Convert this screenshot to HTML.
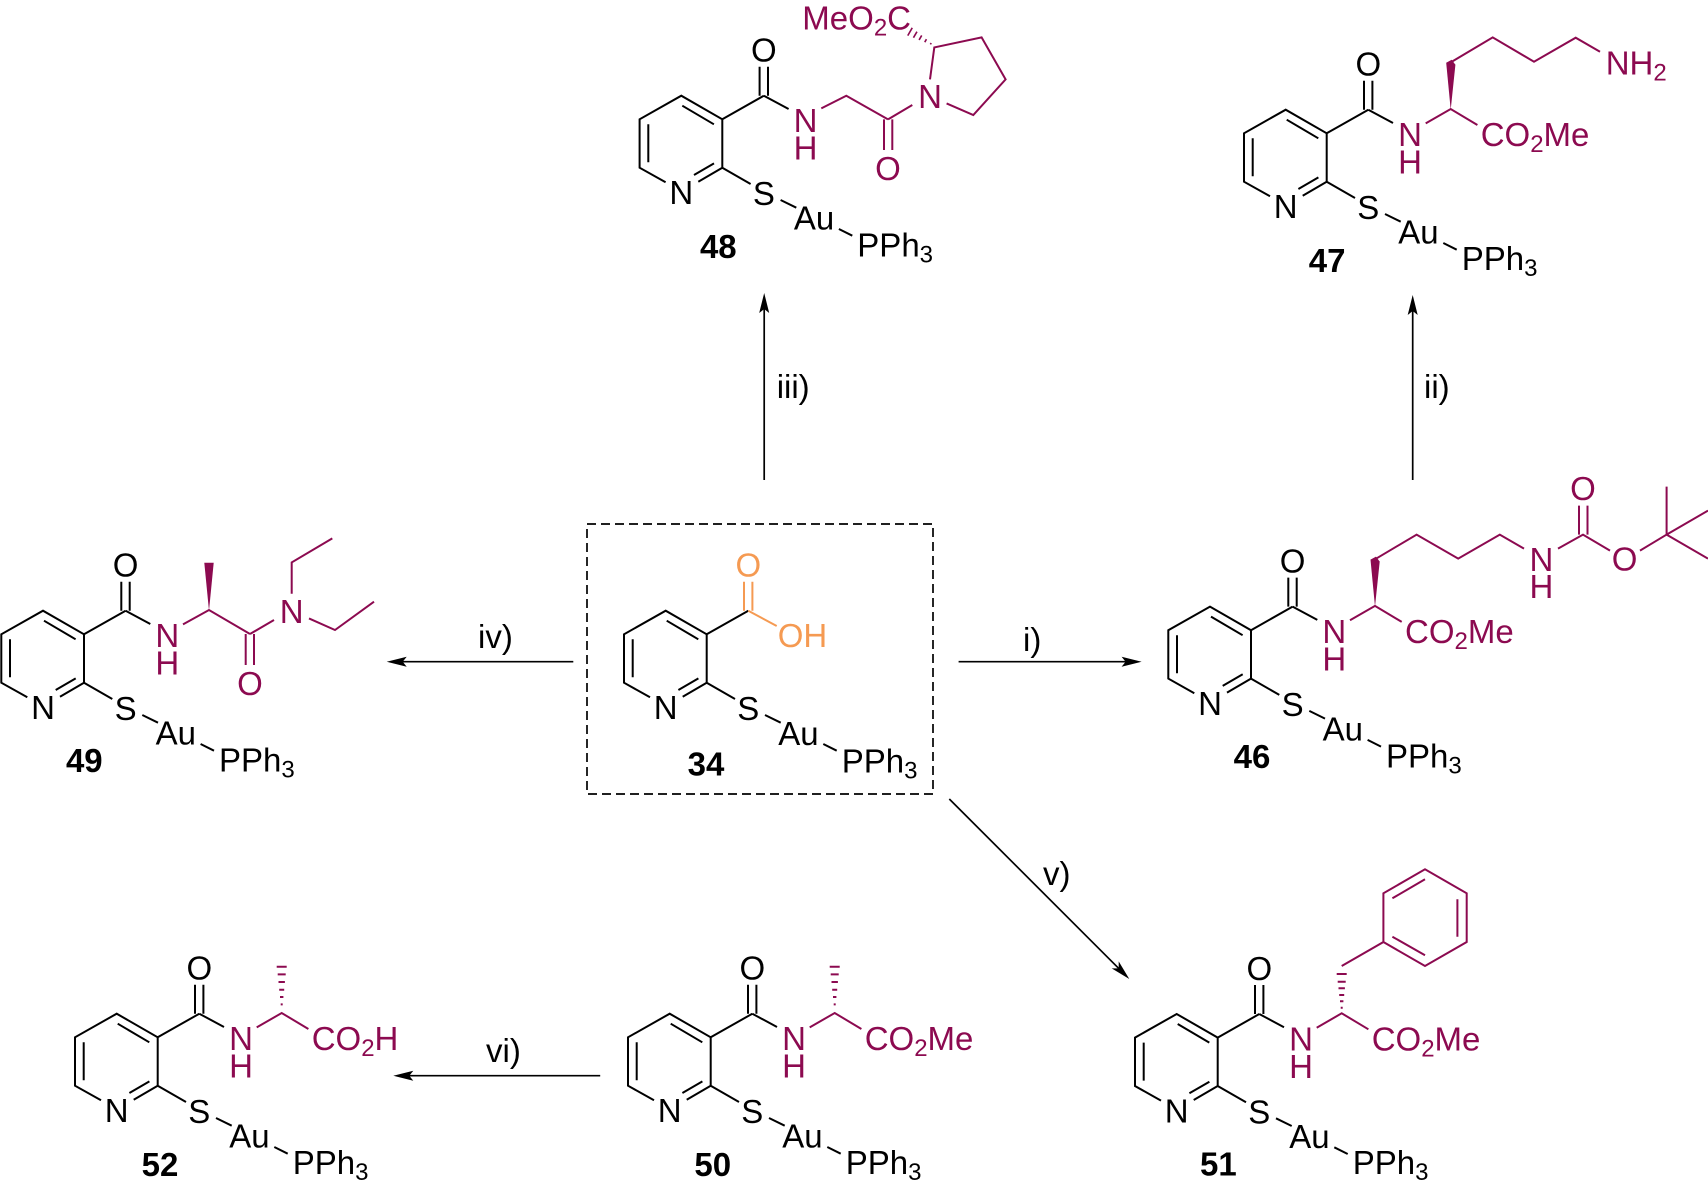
<!DOCTYPE html>
<html><head><meta charset="utf-8"><style>
html,body{margin:0;padding:0;background:#fff}
svg{display:block}
text{font-family:"Liberation Sans",Arial,sans-serif;font-size:33px;stroke:none}
.t{fill:#000}.r{fill:#8c0a50}.o{fill:#f59a52}
.l{font-weight:bold;text-anchor:middle}
.c{text-anchor:middle}
.k{fill:none;stroke:#000;stroke-width:2}
.m{fill:none;stroke:#8c0a50;stroke-width:2}
.q{fill:none;stroke:#f59a52;stroke-width:2}
.h{fill:none;stroke:#8c0a50;stroke-width:2}
.w{fill:#8c0a50;stroke:none}
.a{fill:#000;stroke:none}
.s{font-size:24px}
</style></head><body>
<svg width="1708" height="1186" viewBox="0 0 1708 1186" xmlns="http://www.w3.org/2000/svg">
<rect width="1708" height="1186" fill="#fff"/>

<!-- box -->
<rect x="587" y="524" width="346" height="270" fill="none" stroke="#000" stroke-width="1.7" stroke-dasharray="9 5"/>

<!-- arrows -->
<path class="k" style="stroke-width:1.7" d="M764.2 480V305M1412.7 480V307M573.3 661.7H398M958.6 661.7H1130M949.3 799L1120 969.7M600.2 1075.7H405"/>
<polygon class="a" points="764.2,293 769.2,313 764.2,309 759.2,313"/>
<polygon class="a" points="1412.7,295 1417.7,315 1412.7,311 1407.7,315"/>
<polygon class="a" points="386.7,661.7 406.7,656.7 402.7,661.7 406.7,666.7"/>
<polygon class="a" points="1141.6,661.7 1121.6,656.7 1125.6,661.7 1121.6,666.7"/>
<polygon class="a" points="1129.3,979 1118.7,961.4 1118.7,968.4 1111.7,968.4"/>
<polygon class="a" points="393.3,1075.7 413.3,1070.7 409.3,1075.7 413.3,1080.7"/>
<text class="t" x="776.7" y="398">iii)</text>
<text class="t" x="1424" y="398">ii)</text>
<text class="t" x="478" y="648">iv)</text>
<text class="t" x="1023" y="651">i)</text>
<text class="t" x="1043" y="885">v)</text>
<text class="t" x="486" y="1062">vi)</text>

<!-- 34 -->
<g transform="translate(706.7 682.7)">
<path class="k" d="M0 0V-48.4L-41 -72L-82.7 -48.4V0L-56.7 14.6M0 0L-24 14M-8.3 -4.3L-28.3 7.3M-8.4 -43.4L-40 -62M-74 -43.4V-5.4M0 0L28.3 16.3M58.3 32.3L74 40M116.6 61.3L130 68M0 -48.4L41.6 -72"/>
<path class="q" d="M37.3 -72V-101M45.7 -72V-101M41.6 -72L70 -56.7"/>
<text class="t c" x="-41" y="36.5">N</text><text class="t c" x="41.6" y="37.5">S</text>
<text class="t" x="71.6" y="62.5">Au</text><text class="t" x="135" y="90">PPh<tspan class="s" dy="6">3</tspan></text>
<text class="o c" x="41.6" y="-106">O</text><text class="o" x="71" y="-35.5">OH</text>
<text class="t l" x="-0.7" y="93">34</text>
</g>

<!-- 48 -->
<g transform="translate(722.3 167.7)">
<path class="k" d="M0 0V-48.4L-41 -72L-82.7 -48.4V0L-56.7 14.6M0 0L-24 14M-8.3 -4.3L-28.3 7.3M-8.4 -43.4L-40 -62M-74 -43.4V-5.4M0 0L28.3 16.3M58.3 32.3L74 40M116.6 61.3L130 68M0 -48.4L41.6 -72M37.3 -72V-101M45.7 -72V-101M41.6 -72L66.3 -58.7"/>
<text class="t c" x="-41" y="36.5">N</text><text class="t c" x="41.6" y="37.5">S</text>
<text class="t" x="71.6" y="62">Au</text><text class="t" x="135" y="89">PPh<tspan class="s" dy="6">3</tspan></text>
<text class="t c" x="41.6" y="-106">O</text>
<text class="r c" x="83.3" y="-35.5">N</text><text class="r c" x="83.3" y="-8">H</text>
<path class="m" d="M99 -59.3L124 -72L165.7 -48.3M161.7 -48.3V-17.7M170 -48.3V-17.7M165.7 -48.3L190 -62.7M207.7 -88.3L212 -120.3L259.3 -130.3L283.3 -88.3L251 -52.7L224.3 -64.3"/>
<path class="h" d="M208.1 -123.3L208.9 -124.7M202.45 -125.5L204.15 -128.5M196.8 -127.75L199.4 -132.25M191.15 -130L194.65 -136M185.45 -132.1L189.95 -139.9" style="stroke-width:1.6"/>
<text class="r c" x="165.7" y="12.3">O</text>
<text class="r c" x="207.7" y="-59.8">N</text>
<text class="r" x="80" y="-138.2">MeO<tspan class="s" dy="6">2</tspan><tspan dy="-6">C</tspan></text>
<text class="t l" x="-4" y="90.5">48</text>
</g>

<!-- 47 -->
<g transform="translate(1326.7 181.7)">
<path class="k" d="M0 0V-48.4L-41 -72L-82.7 -48.4V0L-56.7 14.6M0 0L-24 14M-8.3 -4.3L-28.3 7.3M-8.4 -43.4L-40 -62M-74 -43.4V-5.4M0 0L28.3 16.3M58.3 32.3L74 40M116.6 61.3L130 68M0 -48.4L41.6 -72M37.3 -72V-101M45.7 -72V-101M41.6 -72L66.3 -58.7"/>
<text class="t c" x="-41" y="36.5">N</text><text class="t c" x="41.6" y="37.5">S</text>
<text class="t" x="71.6" y="62">Au</text><text class="t" x="135" y="88.5">PPh<tspan class="s" dy="6">3</tspan></text>
<text class="t c" x="41.6" y="-106">O</text>
<text class="r c" x="83.3" y="-35.5">N</text><text class="r c" x="83.3" y="-8">H</text>
<path class="m" d="M99 -58.3L124 -72.7L150.7 -56.7M124 -119.3L166 -144.3L207.3 -120L249 -144L273.3 -130"/>
<polygon class="w" points="124,-72 119.5,-119 125,-122 128.7,-117"/>
<text class="r" x="154" y="-35.5">CO<tspan class="s" dy="6">2</tspan><tspan dy="-6">Me</tspan></text>
<text class="r" x="279" y="-107.2">NH<tspan class="s" dy="6">2</tspan></text>
<text class="t l" x="0.4" y="90.5">47</text>
</g>

<!-- 46 -->
<g transform="translate(1251 678.6)">
<path class="k" d="M0 0V-48.4L-41 -72L-82.7 -48.4V0L-56.7 14.6M0 0L-24 14M-8.3 -4.3L-28.3 7.3M-8.4 -43.4L-40 -62M-74 -43.4V-5.4M0 0L28.3 16.3M58.3 32.3L74 40M116.6 61.3L130 68M0 -48.4L41.6 -72M37.3 -72V-101M45.7 -72V-101M41.6 -72L66.3 -58.7"/>
<text class="t c" x="-41" y="36.5">N</text><text class="t c" x="41.6" y="37.5">S</text>
<text class="t" x="71.6" y="62">Au</text><text class="t" x="135" y="89">PPh<tspan class="s" dy="6">3</tspan></text>
<text class="t c" x="41.6" y="-106">O</text>
<text class="r c" x="83.3" y="-35.5">N</text><text class="r c" x="83.3" y="-8">H</text>
<path class="m" d="M99 -58.3L124 -72.7L150.7 -56.7M124 -119.3L165.6 -144L207.2 -120L248.8 -144L273 -130M307 -130L332 -144L359 -128M328 -144V-173M336.5 -144V-173M389 -128L415.6 -144V-192M415.6 -144L457 -168M415.6 -144L457 -120"/>
<polygon class="w" points="124,-72 119.5,-119 125,-122 128.7,-117"/>
<text class="r" x="154" y="-35.5">CO<tspan class="s" dy="6">2</tspan><tspan dy="-6">Me</tspan></text>
<text class="r c" x="290.4" y="-107.5">N</text><text class="r c" x="290.4" y="-80.5">H</text>
<text class="r c" x="332" y="-178.5">O</text>
<text class="r c" x="373.6" y="-108">O</text>
<text class="t l" x="1" y="89.5">46</text>
</g>

<!-- 49 -->
<g transform="translate(84 682.7)">
<path class="k" d="M0 0V-48.4L-41 -72L-82.7 -48.4V0L-56.7 14.6M0 0L-24 14M-8.3 -4.3L-28.3 7.3M-8.4 -43.4L-40 -62M-74 -43.4V-5.4M0 0L28.3 16.3M58.3 32.3L74 40M116.6 61.3L130 68M0 -48.4L41.6 -72M37.3 -72V-101M45.7 -72V-101M41.6 -72L66.3 -58.7"/>
<text class="t c" x="-41" y="36.5">N</text><text class="t c" x="41.6" y="37.5">S</text>
<text class="t" x="71.6" y="62">Au</text><text class="t" x="135" y="89">PPh<tspan class="s" dy="6">3</tspan></text>
<text class="t c" x="41.6" y="-106">O</text>
<text class="r c" x="83.3" y="-35.5">N</text><text class="r c" x="83.3" y="-8">H</text>
<path class="m" d="M99 -58.3L125 -72.7L166 -48.7M161.7 -48.7V-17.7M170 -48.7V-17.7M166 -48.7L190 -62.7M207.7 -89V-120.3L248.3 -144.3M225 -64.3L251 -52.7L290 -81"/>
<polygon class="w" points="125,-72 120.3,-120 129.7,-120"/>
<text class="r c" x="166" y="12.3">O</text>
<text class="r c" x="207.7" y="-59.8">N</text>
<text class="t l" x="0.3" y="89.5">49</text>
</g>

<!-- 50 -->
<g transform="translate(710.7 1085.7)">
<path class="k" d="M0 0V-48.4L-41 -72L-82.7 -48.4V0L-56.7 14.6M0 0L-24 14M-8.3 -4.3L-28.3 7.3M-8.4 -43.4L-40 -62M-74 -43.4V-5.4M0 0L28.3 16.3M58.3 32.3L74 40M116.6 61.3L130 68M0 -48.4L41.6 -72M37.3 -72V-101M45.7 -72V-101M41.6 -72L66.3 -58.7"/>
<text class="t c" x="-41" y="36.5">N</text><text class="t c" x="41.6" y="37.5">S</text>
<text class="t" x="71.6" y="62">Au</text><text class="t" x="135" y="88.5">PPh<tspan class="s" dy="6">3</tspan></text>
<text class="t c" x="41.6" y="-106">O</text>
<text class="r c" x="83.3" y="-35.5">N</text><text class="r c" x="83.3" y="-8">H</text>
<path class="m" d="M99 -58.3L124 -72.7L150.7 -56.7"/>
<path class="h" d="M119 -119H129M120 -111.3H128M120.8 -103.7H127.2M121.5 -96H126.5M122.3 -88.7H125.7M123 -81.3H125"/>
<text class="r" x="154" y="-35.5">CO<tspan class="s" dy="6">2</tspan><tspan dy="-6">Me</tspan></text>
<text class="t l" x="2" y="90.5">50</text>
</g>

<!-- 52 -->
<g transform="translate(157.7 1085.7)">
<path class="k" d="M0 0V-48.4L-41 -72L-82.7 -48.4V0L-56.7 14.6M0 0L-24 14M-8.3 -4.3L-28.3 7.3M-8.4 -43.4L-40 -62M-74 -43.4V-5.4M0 0L28.3 16.3M58.3 32.3L74 40M116.6 61.3L130 68M0 -48.4L41.6 -72M37.3 -72V-101M45.7 -72V-101M41.6 -72L66.3 -58.7"/>
<text class="t c" x="-41" y="36.5">N</text><text class="t c" x="41.6" y="37.5">S</text>
<text class="t" x="71.6" y="62">Au</text><text class="t" x="135" y="88.5">PPh<tspan class="s" dy="6">3</tspan></text>
<text class="t c" x="41.6" y="-106">O</text>
<text class="r c" x="83.3" y="-35.5">N</text><text class="r c" x="83.3" y="-8">H</text>
<path class="m" d="M99 -58.3L124 -72.7L150.7 -56.7"/>
<path class="h" d="M119 -119H129M120 -111.3H128M120.8 -103.7H127.2M121.5 -96H126.5M122.3 -88.7H125.7M123 -81.3H125"/>
<text class="r" x="154" y="-35.5">CO<tspan class="s" dy="6">2</tspan><tspan dy="-6">H</tspan></text>
<text class="t l" x="2.3" y="90.5">52</text>
</g>

<!-- 51 -->
<g transform="translate(1217.7 1086)">
<path class="k" d="M0 0V-48.4L-41 -72L-82.7 -48.4V0L-56.7 14.6M0 0L-24 14M-8.3 -4.3L-28.3 7.3M-8.4 -43.4L-40 -62M-74 -43.4V-5.4M0 0L28.3 16.3M58.3 32.3L74 40M116.6 61.3L130 68M0 -48.4L41.6 -72M37.3 -72V-101M45.7 -72V-101M41.6 -72L66.3 -58.7"/>
<text class="t c" x="-41" y="36.5">N</text><text class="t c" x="41.6" y="37.5">S</text>
<text class="t" x="71.6" y="62">Au</text><text class="t" x="135" y="88">PPh<tspan class="s" dy="6">3</tspan></text>
<text class="t c" x="41.6" y="-106">O</text>
<text class="r c" x="83.3" y="-35.5">N</text><text class="r c" x="83.3" y="-8">H</text>
<path class="m" d="M99 -58.3L124 -72.7L150.7 -56.7M124 -120L165.7 -144V-192.7L207.3 -216.7L249 -192.7V-144L207.3 -120L165.7 -144M174.7 -187.7L207.3 -206.7M239.7 -186.7V-149.3M174.7 -149.3L207.3 -130.7"/>
<path class="h" d="M119 -112H129M120 -104.3H128M120.8 -97.7H127.2M121.5 -91H126.5M122.3 -84.7H125.7M123 -78.3H125"/>
<text class="r" x="154" y="-35.5">CO<tspan class="s" dy="6">2</tspan><tspan dy="-6">Me</tspan></text>
<text class="t l" x="0.7" y="89.5">51</text>
</g>
</svg>
</body></html>
